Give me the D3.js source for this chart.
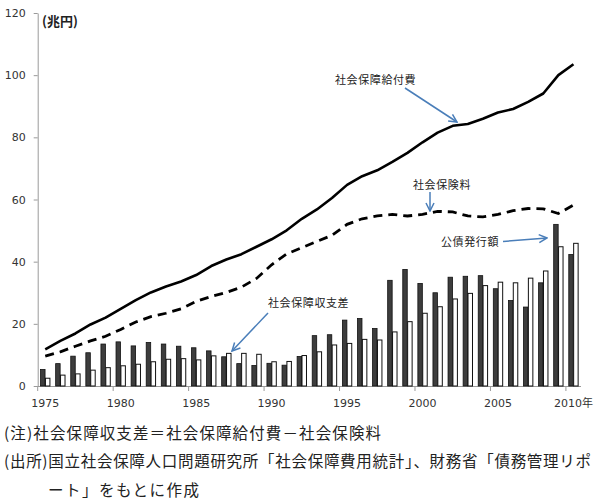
<!DOCTYPE html>
<html><head><meta charset="utf-8">
<script src="https://cdn.jsdelivr.net/npm/d3@7"></script>
<style>body{margin:0;background:#fff}svg{display:block}</style>
</head><body><svg id="c" width="600" height="500"></svg>
<script>
const years = [1975,1976,1977,1978,1979,1980,1981,1982,1983,1984,1985,1986,1987,1988,1989,1990,1991,1992,1993,1994,1995,1996,1997,1998,1999,2000,2001,2002,2003,2004,2005,2006,2007,2008,2009,2010];
// 社会保障給付費 (solid line)
const benefits = [11.8,14.5,16.9,19.8,22.0,24.8,27.6,30.1,32.0,33.6,35.7,38.6,40.7,42.4,44.8,47.2,50.1,53.8,56.8,60.5,64.7,67.5,69.4,72.1,75.0,78.4,81.5,83.7,84.3,86.0,88.0,89.1,91.4,94.1,100.0,103.5];
// 社会保険料 (dashed line)
const premiums = [9.6,11.0,12.8,14.5,16.0,18.2,20.6,22.3,23.4,24.8,27.2,28.8,30.1,31.8,34.6,39.0,42.5,44.5,46.5,48.5,52.0,53.8,54.7,55.2,54.7,55.2,56.2,56.0,54.7,54.4,55.2,56.4,57.1,57.0,55.5,58.2];
// 公債発行額 (dark bars)
const bonds = [5.3,7.2,9.6,10.7,13.5,14.2,12.9,14.0,13.5,12.8,12.3,11.3,9.4,7.2,6.6,7.3,6.7,9.5,16.2,16.5,21.2,21.7,18.5,34.0,37.5,33.0,30.0,35.0,35.3,35.5,31.3,27.5,25.4,33.2,52.0,42.3];
// 社会保障収支差 (white bars)
const balance = [2.5,3.5,3.9,5.1,5.9,6.5,7.0,7.8,8.6,8.8,8.4,9.7,10.5,10.5,10.2,7.8,7.9,9.8,11.0,13.2,13.7,15.0,14.8,17.4,20.7,23.4,25.5,28.0,29.8,32.3,33.4,33.2,34.7,37.0,44.8,45.9];

const yTicks = [0,20,40,60,80,100,120];
const xLabelYears = [1975,1980,1985,1990,1995,2000,2005,2010];
const xLabels = ["1975","1980","1985","1990","1995","2000","2005","2010年"];
const unitLabel = "(兆円)";
const seriesNames = ["社会保障給付費","社会保険料","公債発行額","社会保障収支差"];
const notes = ["(注)社会保障収支差＝社会保障給付費－社会保険料",
               "(出所)国立社会保障人口問題研究所「社会保障費用統計」、財務省「債務管理リポ",
               "ート」をもとに作成"];

const svg = d3.select("#c");
svg.append("rect").attr("width",600).attr("height",500).attr("fill","#fff");

const L = 37.7, R = 581, B = 386, T = 13;
const x = d3.scaleBand().domain(years).range([L, R]).padding(0);
const xb = d3.scaleBand().domain(years).range([L, R]).paddingInner(0.38).paddingOuter(0.19);
const xs = d3.scaleBand().domain(["bonds","balance"]).range([0, xb.bandwidth()]).paddingInner(0.08);
const y = d3.scaleLinear().domain([0,120]).range([B, T]);
const cx = yr => x(yr) + x.bandwidth()/2;

// Y axis
const ya = svg.append("g").attr("transform",`translate(${L},0)`)
  .call(d3.axisLeft(y).tickValues(yTicks).tickSize(4).tickSizeOuter(0).tickPadding(8));
ya.select(".domain").attr("stroke","#9a9a9a");
ya.selectAll(".tick line").attr("stroke","#9a9a9a");
ya.selectAll(".tick text").attr("fill","#333").style("font-family","'DejaVu Sans', sans-serif").style("font-size","11px");

// X axis
const xa = svg.append("g");
xa.append("line").attr("x1",L).attr("x2",R).attr("y1",B+0.5).attr("y2",B+0.5).attr("stroke","#9a9a9a");
xa.selectAll("line.t").data(xLabelYears).join("line").attr("class","t")
  .attr("x1",d=>x(d)).attr("x2",d=>x(d)).attr("y1",B).attr("y2",B+5).attr("stroke","#9a9a9a");
xa.selectAll("text").data(xLabelYears).join("text")
  .attr("x",d=>cx(d)).attr("y",407).attr("text-anchor","middle")
  .attr("fill","#333").style("font-family","'DejaVu Sans', 'Noto Sans CJK JP', sans-serif").style("font-size","11px")
  .text((d,i)=>xLabels[i]);

// unit label
svg.append("text").attr("x",42).attr("y",26).text(unitLabel)
  .attr("fill","#222").style("font-family","'Noto Sans CJK JP', sans-serif").style("font-size","13px").style("font-weight","bold");

// bars
const bars = svg.append("g");
bars.selectAll("rect.bond").data(bonds).join("rect").attr("class","bond")
  .attr("x",(d,i)=>xb(years[i]) + xs("bonds")).attr("width",xs.bandwidth())
  .attr("y",d=>y(d)).attr("height",d=>B - y(d))
  .attr("fill","#3d3d3d").attr("stroke","#111").attr("stroke-width",0.8);
bars.selectAll("rect.bal").data(balance).join("rect").attr("class","bal")
  .attr("x",(d,i)=>xb(years[i]) + xs("balance")).attr("width",xs.bandwidth())
  .attr("y",d=>y(d)).attr("height",d=>B - y(d))
  .attr("fill","#fff").attr("stroke","#111").attr("stroke-width",1);

// lines
const line = d3.line().x((d,i)=>cx(years[i])).y(d=>y(d));
svg.append("path").datum(benefits).attr("d",line).attr("fill","none")
  .attr("stroke","#000").attr("stroke-width",2.6).attr("stroke-linejoin","round");
svg.append("path").datum(premiums).attr("d",line).attr("fill","none")
  .attr("stroke","#000").attr("stroke-width",2.8).attr("stroke-dasharray","9,6");

// arrows
const blue = "#4a7eb9";
const defs = svg.append("defs");
defs.append("marker").attr("id","ah").attr("viewBox","0 0 10 10").attr("refX",9).attr("refY",5)
  .attr("markerWidth",10).attr("markerHeight",10).attr("markerUnits","userSpaceOnUse").attr("orient","auto")
  .append("path").attr("d","M1,1 L9,5 L1,9").attr("fill","none").attr("stroke",blue).attr("stroke-width",1.5);

const annos = [
  {t:seriesNames[0], tx:335, ty:84, a:[405,88,457,122]},
  {t:seriesNames[1], tx:413, ty:189, a:[430,192,430,211]},
  {t:seriesNames[2], tx:441, ty:246, a:[503,241.5,547,238]},
  {t:seriesNames[3], tx:268, ty:306.5, a:[268,313,232,351]}
];
const ag = svg.append("g");
annos.forEach(o=>{
  ag.append("line").attr("x1",o.a[0]).attr("y1",o.a[1]).attr("x2",o.a[2]).attr("y2",o.a[3])
    .attr("stroke",blue).attr("stroke-width",1.5).attr("marker-end","url(#ah)");
  ag.append("text").attr("x",o.tx).attr("y",o.ty).text(o.t)
    .attr("fill","#222").style("font-family","'Noto Sans CJK JP', sans-serif").style("font-size","11px").style("letter-spacing","0.6px");
});

// notes
const nx = [4,4,48], ny = [438.5,467,495.5], nw = [377,587,151];
notes.forEach((s,i)=>{
  svg.append("text").attr("x",nx[i]).attr("y",ny[i]).text(s)
    .attr("textLength",nw[i]).attr("lengthAdjust","spacing")
    .attr("fill","#222").style("font-family","'Noto Sans CJK JP', sans-serif").style("font-size","15.5px");
});
</script></body></html>
